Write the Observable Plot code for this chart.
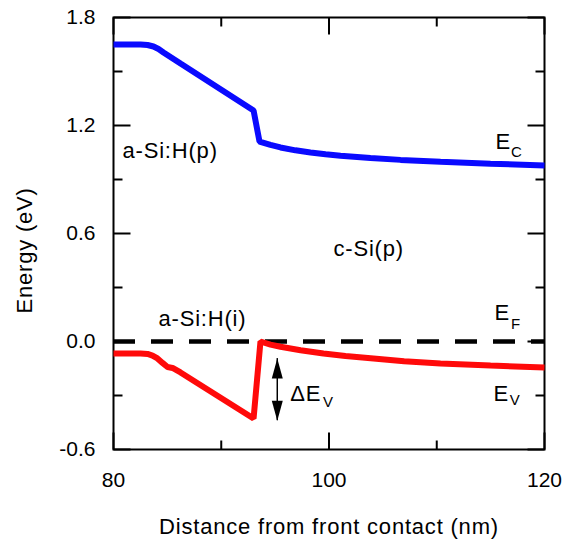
<!DOCTYPE html>
<html>
<head>
<meta charset="utf-8">
<script src="https://cdn.jsdelivr.net/npm/d3@7"></script>
<script src="https://cdn.jsdelivr.net/npm/@observablehq/plot@0.6"></script>
<style>
  body { margin: 0; background: #fff; }
  #chart svg g[aria-label="text"] { letter-spacing: 0.8px; }
</style>
</head>
<body>
<div id="chart"></div>
<script>
// Band diagram of an a-Si:H(p) / a-Si:H(i) / c-Si(p) heterojunction

// Conduction band edge E_C (distance in nm, energy in eV)
const conductionX = [80, 82.51, 83.16, 83.71, 84.18, 84.64, 86.22, 93.0, 93.55, 94.57, 95.5, 96.89, 98.28, 99.68, 101.07, 103.85, 106.64, 110.35, 114.99, 120];
const conductionE = [1.65, 1.65, 1.647, 1.639, 1.625, 1.606, 1.544, 1.283, 1.111, 1.092, 1.078, 1.062, 1.05, 1.04, 1.032, 1.019, 1.009, 0.998, 0.988, 0.978];

// Valence band edge E_V
const valenceX = [80, 82.51, 83.16, 83.62, 84.08, 84.55, 85.01, 85.48, 86.22, 93.0, 93.64, 94.57, 95.5, 96.43, 97.36, 99.49, 101.53, 104.13, 106.97, 110.35, 114.99, 120];
const valenceE = [-0.067, -0.067, -0.069, -0.078, -0.094, -0.119, -0.142, -0.147, -0.172, -0.428, 0.0, -0.017, -0.029, -0.039, -0.049, -0.067, -0.081, -0.094, -0.11, -0.122, -0.134, -0.144];

// Fermi level
const fermiLevel = [0];

// Valence band offset arrow
const offsetArrow = [{x: 95.2, top: -0.095, bottom: -0.44}];

// Axis ticks
const xMajor = [80, 100, 120];
const xMinor = [90, 110];
const yMajor = [-0.6, 0, 0.6, 1.2, 1.8];
const yMinor = [-0.3, 0.3, 0.9, 1.5];

// Layer labels
const regionText = ["a-Si:H(p)", "a-Si:H(i)", "c-Si(p)"];
const regionX = [80.84, 84.18, 100.42];
const regionY = [1.058, 0.124, 0.513];

// Band edge labels with subscripts
const bandText = ["E", "E", "E", "\u0394E"];
const bandX = [115.45, 115.36, 115.27, 96.4];
const bandY = [1.111, 0.156, -0.289, -0.289];
const subText = ["C", "F", "V", "V"];
const subX = [116.88, 116.88, 116.78, 99.45];
const subY = [1.05, 0.094, -0.328, -0.339];

// Axis titles (the y title is centred at this energy)
const xTitle = ["Distance from front contact (nm)"];
const yTitle = ["Energy (eV)"];
const yTitleAt = [0.506];

const conduction = conductionX.map((x, i) => ({x, e: conductionE[i]}));
const valence = valenceX.map((x, i) => ({x, e: valenceE[i]}));
const regions = regionText.map((t, i) => ({t, x: regionX[i], y: regionY[i]}));
const bands = bandText.map((t, i) => ({t, x: bandX[i], y: bandY[i]}));
const subs = subText.map((t, i) => ({t, x: subX[i], y: subY[i]}));

// Filled, elongated arrowheads with the tip at the anchor point
const headUp = {draw(ctx) { ctx.moveTo(0, 0); ctx.lineTo(5.5, 20); ctx.lineTo(-5.5, 20); ctx.closePath(); }};
const headDown = {draw(ctx) { ctx.moveTo(0, 0); ctx.lineTo(5.5, -20); ctx.lineTo(-5.5, -20); ctx.closePath(); }};

// Inward tick marks drawn as short vectors from each side of the frame
const tickShape = {draw(ctx, l) { ctx.moveTo(0, 0); ctx.lineTo(0, -l); }};
const sideRotate = {bottom: 0, top: 180, left: 90, right: -90};
function inwardTicks(values, side, length) {
  const k = side === "bottom" || side === "top" ? "x" : "y";
  return Plot.vector(values, {
    [k]: d => d,
    frameAnchor: side,
    length,
    rotate: sideRotate[side],
    anchor: "start",
    shape: tickShape,
    stroke: "black",
    strokeWidth: 2,
    strokeLinecap: "butt"
  });
}

const fontFamily = "Arial, 'Liberation Sans', Helvetica, sans-serif";

const chart = Plot.plot({
  width: 566,
  height: 541,
  marginLeft: 113,
  marginRight: 22,
  marginTop: 17,
  marginBottom: 92,
  x: {domain: [80, 120], label: null},
  y: {domain: [-0.6, 1.8], label: null},
  style: {fontFamily, fontSize: "22px", color: "black", background: "white", overflow: "visible"},
  marks: [
    // tick labels
    Plot.axisX(xMajor, {anchor: "bottom", tickSize: 0, tickPadding: 23, fontSize: 21, tickFormat: d => String(d), label: null}),
    Plot.axisY(yMajor, {anchor: "left", tickSize: 0, tickPadding: 18, fontSize: 21, tickFormat: d => d.toFixed(1), label: null}),
    // inward ticks on all four sides
    ...["bottom", "top"].flatMap(s => [inwardTicks(xMajor, s, 17), inwardTicks(xMinor, s, 9)]),
    ...["left", "right"].flatMap(s => [inwardTicks(yMajor, s, 17), inwardTicks(yMinor, s, 9)]),
    Plot.frame({stroke: "black", strokeWidth: 2}),
    // Fermi level
    Plot.ruleY(fermiLevel, {stroke: "black", strokeWidth: 4.5, strokeDasharray: "22,16"}),
    // band edges
    Plot.line(conduction, {x: "x", y: "e", stroke: "#0a0aff", strokeWidth: 6, strokeLinejoin: "miter", strokeLinecap: "butt"}),
    Plot.line(valence, {x: "x", y: "e", stroke: "#ff0a0a", strokeWidth: 6, strokeLinejoin: "miter", strokeLinecap: "butt"}),
    // band offset arrow
    Plot.ruleX(offsetArrow, {x: "x", y1: "top", y2: "bottom", stroke: "black", strokeWidth: 1.5}),
    Plot.dot(offsetArrow, {x: "x", y: "top", symbol: headUp, fill: "black", stroke: null}),
    Plot.dot(offsetArrow, {x: "x", y: "bottom", symbol: headDown, fill: "black", stroke: null}),
    // labels
    Plot.text(regions, {x: "x", y: "y", text: "t", textAnchor: "start", lineAnchor: "middle", fontSize: 22}),
    Plot.text(bands, {x: "x", y: "y", text: "t", textAnchor: "start", lineAnchor: "middle", fontSize: 22}),
    Plot.text(subs, {x: "x", y: "y", text: "t", textAnchor: "start", lineAnchor: "middle", fontSize: 15}),
    // axis titles
    Plot.text(xTitle, {frameAnchor: "bottom", dy: 77, textAnchor: "middle", lineAnchor: "middle", fontSize: 22}),
    Plot.text(yTitle, {y: yTitleAt, frameAnchor: "left", dx: -89, rotate: -90, textAnchor: "middle", lineAnchor: "middle", fontSize: 22})
  ]
});

document.getElementById("chart").appendChild(chart);
</script>
</body>
</html>
